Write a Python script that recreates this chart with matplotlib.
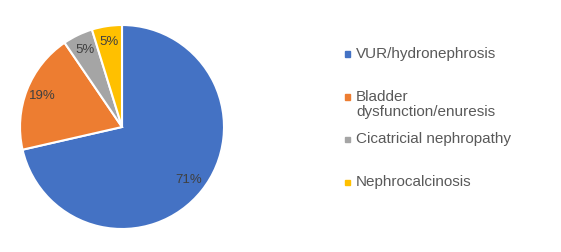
import matplotlib.pyplot as plt
from matplotlib.patches import Rectangle

# Cases by underlying condition
labels = ['VUR/hydronephrosis', 'Bladder\ndysfunction/enuresis',
          'Cicatricial nephropathy', 'Nephrocalcinosis']
counts = [15, 4, 1, 1]
colors = ['#4472C4', '#ED7D31', '#A5A5A5', '#FFC000']

plt.rcParams['font.family'] = ['Liberation Sans', 'DejaVu Sans']

W, H = 561, 252
fig = plt.figure(figsize=(W / 100, H / 100), dpi=100)

# pie centre (122, 127) px, radius 102 px
cx, cy, r = 122, 127, 102
ax = fig.add_axes([(cx - r) / W, (H - cy - r) / H, 2 * r / W, 2 * r / H])
wedges, texts, autotexts = ax.pie(
    counts, colors=colors, startangle=90, counterclock=False,
    autopct=lambda p: f'{p:.0f}%', pctdistance=0.84,
    wedgeprops=dict(edgecolor='white', linewidth=1.5),
    textprops=dict(color='#404040', fontsize=9.5))
for w in wedges:
    w.set_clip_on(False)
ax.set_xlim(-1, 1)
ax.set_ylim(-1, 1)
ax.set_aspect('equal')
ax.axis('off')

# legend drawn by hand, Excel style uneven slots (y of first line)
legend_y = [54, 97, 139, 182]
for lab, col, y in zip(labels, colors, legend_y):
    fig.patches.append(Rectangle((345 / W, (H - y - 2.5) / H), 5 / W, 5 / H,
                                 transform=fig.transFigure, color=col))
    fig.text(356 / W, (H - y + 7) / H, lab, fontsize=11, color='#595959',
             va='top', ha='left', linespacing=1.1)

fig.savefig('out.png', dpi=100)
